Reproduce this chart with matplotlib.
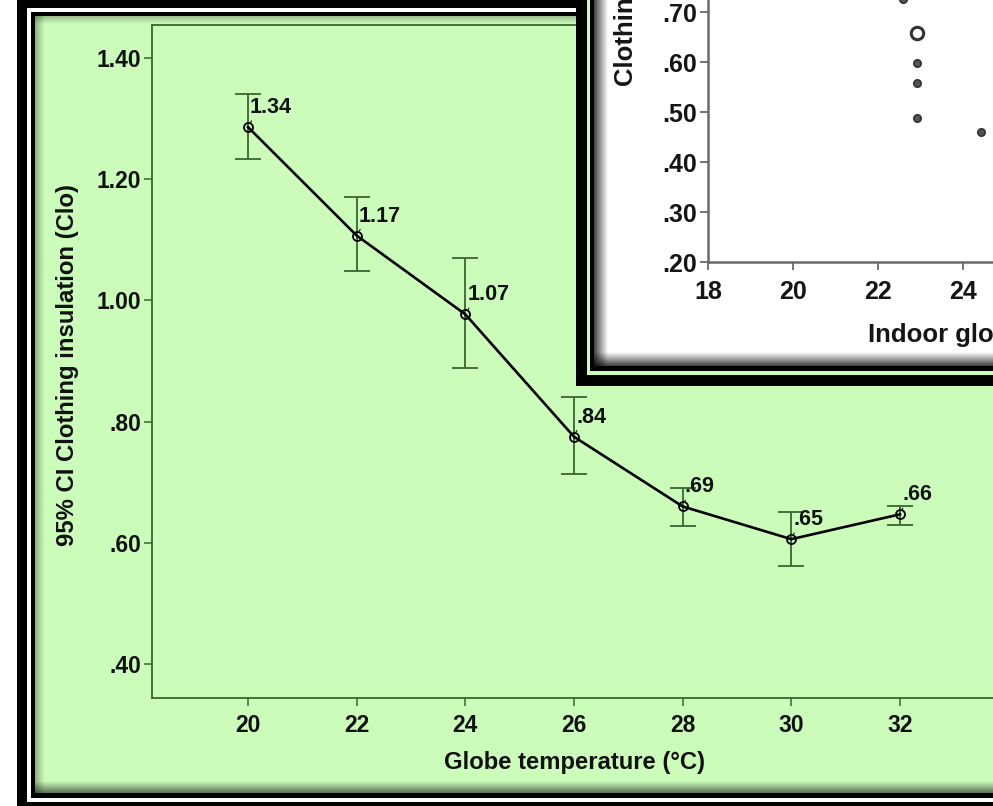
import numpy as np
import matplotlib
matplotlib.use('Agg')
import matplotlib.pyplot as plt
from matplotlib.patches import Rectangle

plt.rcParams['font.family'] = ['Liberation Sans', 'DejaVu Sans']
plt.rcParams['font.weight'] = 'bold'

# ---------------- data (main chart) ----------------
globe_temp = [20, 22, 24, 26, 28, 30, 32]
clo_mean = [1.286, 1.107, 0.977, 0.775, 0.660, 0.606, 0.647]
ci_upper = [1.34, 1.17, 1.07, 0.84, 0.69, 0.65, 0.66]
ci_lower = [1.233, 1.049, 0.888, 0.713, 0.627, 0.562, 0.629]
x_ticks = [20, 22, 24, 26, 28, 30, 32]
y_ticks = [0.40, 0.60, 0.80, 1.00, 1.20, 1.40]
y_tick_labels = ['.40', '.60', '.80', '1.00', '1.20', '1.40']
x_label = 'Globe temperature (°C)'
y_label = '95% CI Clothing insulation (Clo)'

# ---------------- data (inset scatter, partly cut off) ----------------
inset_temp = [22.59, 22.92, 22.92, 22.92, 22.92, 24.42]
inset_clo = [0.726, 0.658, 0.599, 0.559, 0.489, 0.461]
inset_ring = [False, True, False, False, False, False]
inset_x_ticks = [18, 20, 22, 24]
inset_y_ticks = [0.20, 0.30, 0.40, 0.50, 0.60, 0.70]
inset_x_label = 'Indoor globe temperature (°C)'
inset_y_label = 'Clothing insulation (Clo)'

W, H = 993, 806
GREEN = '#cbfcba'
DKGREEN = '#3a6530'

fig = plt.figure(figsize=(W / 100, H / 100), dpi=100, facecolor='white')


def px_axes(z):
    a = fig.add_axes([0, 0, 1, 1], zorder=z)
    a.set_xlim(0, W)
    a.set_ylim(H, 0)
    a.axis('off')
    a.patch.set_visible(False)
    return a


def rect(a, x0, y0, x1, y1, color, z=1):
    a.add_patch(Rectangle((x0, y0), x1 - x0, y1 - y0, facecolor=color,
                          edgecolor='none', zorder=z))


def shade(a, x0, y0, x1, y1, direction, amax, z=2, rgb=(0, 0, 0)):
    n = 64
    g = np.linspace(amax, 0, n)
    img = np.zeros((1, n, 4)) if direction in ('left', 'right') else np.zeros((n, 1, 4))
    img[..., 0], img[..., 1], img[..., 2] = rgb
    if direction == 'left':
        img[0, :, 3] = g
    elif direction == 'right':
        img[0, :, 3] = g[::-1]
    elif direction == 'top':
        img[:, 0, 3] = g
    else:
        img[:, 0, 3] = g[::-1]
    a.imshow(img, extent=(x0, x1, y1, y0), aspect='auto', zorder=z,
             interpolation='bilinear')


# ---------------- outer frame ----------------
bg = px_axes(0)
rect(bg, 17, -5, 1100, 806, 'black')
rect(bg, 27, 8, 1100, 802, 'white')
rect(bg, 31, 12, 1100, 798, 'black')
rect(bg, 35, 16, 1100, 793, GREEN)
shade(bg, 35, 16, 45, 793, 'left', 0.30)
shade(bg, 35, 16, 1100, 24, 'top', 0.25)
shade(bg, 35, 781, 1100, 793, 'bottom', 0.55)
bg.set_xlim(0, W)
bg.set_ylim(H, 0)

# ---------------- main chart ----------------
L, R, T, B = 152, 1009, 25, 698
ax = fig.add_axes([L / W, 1 - B / H, (R - L) / W, (B - T) / H], zorder=1)
ax.patch.set_visible(False)
ax.set_xlim(20 - (248 - L) / 54.33, 20 + (R - 248) / 54.33)
ax.set_ylim(0.40 - (B - 664) / 606, 1.40 + (58 - T) / 606)

yerr = [np.array(clo_mean) - np.array(ci_lower), np.array(ci_upper) - np.array(clo_mean)]
ax.errorbar(globe_temp, clo_mean, yerr=yerr, fmt='none', ecolor=DKGREEN,
            elinewidth=1.3, capsize=9.5, capthick=1.3, zorder=2)
ax.plot(globe_temp, clo_mean, color='black', lw=1.9, zorder=3,
        marker='o', markersize=6.5, markerfacecolor='none',
        markeredgecolor='black', markeredgewidth=1.3)

for xv, yv, up in zip(globe_temp, clo_mean, ci_upper):
    txt = f'{up:.2f}'
    if txt.startswith('0'):
        txt = txt[1:]
    ax.annotate(txt, xy=(xv, yv), xytext=(1.5, 14), textcoords='offset points',
                ha='left', va='center', fontsize=15.5, fontweight='bold',
                color='#111111', zorder=4,
                arrowprops=dict(arrowstyle='-', lw=0.9, color='#222222',
                                shrinkA=0, shrinkB=3.5, relpos=(0.1, 0.1)))

for s in ['left', 'bottom', 'top', 'right']:
    ax.spines[s].set_color(DKGREEN)
    ax.spines[s].set_linewidth(1.3)
ax.set_xticks(x_ticks)
ax.set_xticklabels([str(t) for t in x_ticks])
ax.set_yticks(y_ticks)
ax.set_yticklabels(y_tick_labels)
ax.tick_params(axis='both', length=6, width=1.1, color=DKGREEN,
               labelsize=16.5, labelcolor='#111111')
ax.tick_params(axis='x', pad=5.5)
ax.tick_params(axis='y', pad=2)
for lab in ax.get_xticklabels() + ax.get_yticklabels():
    lab.set_fontweight('bold')

fig.text(575 / W, 1 - 763 / H, x_label, ha='center', va='center',
         fontsize=17.2, fontweight='bold', color='#111111')
fig.text(68 / W, 1 - 365 / H, y_label, ha='center', va='center', rotation=90,
         fontsize=17.2, fontweight='bold', color='#111111')

# ---------------- inset panel ----------------
bg2 = px_axes(2)
rect(bg2, 576, -10, 1100, 386, 'black')
rect(bg2, 587, -10, 1100, 375, GREEN)
rect(bg2, 590, -10, 1100, 371, 'black')
rect(bg2, 594, -10, 1100, 366, 'white')
shade(bg2, 594, -10, 608, 366, 'left', 0.75, z=3)
shade(bg2, 594, 352, 1100, 366, 'bottom', 0.75, z=3)
bg2.set_xlim(0, W)
bg2.set_ylim(H, 0)

iL, iR, iT, iB = 708, 1100, -100, 262
ax2 = fig.add_axes([iL / W, 1 - iB / H, (iR - iL) / W, (iB - iT) / H], zorder=3)
ax2.patch.set_visible(False)
ax2.set_xlim(18, 18 + (iR - iL) / 42.5)
ax2.set_ylim(0.20, 0.20 + (iB - iT) / 500)

dots_x = [t for t, r in zip(inset_temp, inset_ring) if not r]
dots_y = [c for c, r in zip(inset_clo, inset_ring) if not r]
ring_x = [t for t, r in zip(inset_temp, inset_ring) if r]
ring_y = [c for c, r in zip(inset_clo, inset_ring) if r]
ax2.scatter(dots_x, dots_y, s=28, facecolor='#555555', edgecolor='#333333',
            linewidth=1.2, zorder=3)
ax2.scatter(ring_x, ring_y, s=80, facecolor='white', edgecolor='#333333',
            linewidth=2.2, zorder=3)

for s in ['top', 'right']:
    ax2.spines[s].set_visible(False)
for s in ['left', 'bottom']:
    ax2.spines[s].set_color('#6a6a6a')
    ax2.spines[s].set_linewidth(1.8)
ax2.set_xticks(inset_x_ticks)
ax2.set_xticklabels([str(t) for t in inset_x_ticks])
ax2.set_yticks(inset_y_ticks)
ax2.set_yticklabels([f'{v:.2f}'[1:] for v in inset_y_ticks])
ax2.tick_params(axis='both', length=6, width=1.3, color='#6a6a6a',
                labelsize=18, labelcolor='#151515')
ax2.tick_params(axis='x', pad=7)
ax2.tick_params(axis='y', pad=2)
for lab in ax2.get_xticklabels() + ax2.get_yticklabels():
    lab.set_fontweight('bold')

fig.text(868 / W, 1 - 335 / H, inset_x_label, ha='left', va='center',
         fontsize=18.5, fontweight='bold', color='#151515', zorder=5)
fig.text(626 / W, 1 - 86 / H, inset_y_label, ha='center', va='bottom',
         rotation=90, fontsize=18.5, fontweight='bold', color='#151515', zorder=5)

fig.savefig('out.png', dpi=100, facecolor='white')
